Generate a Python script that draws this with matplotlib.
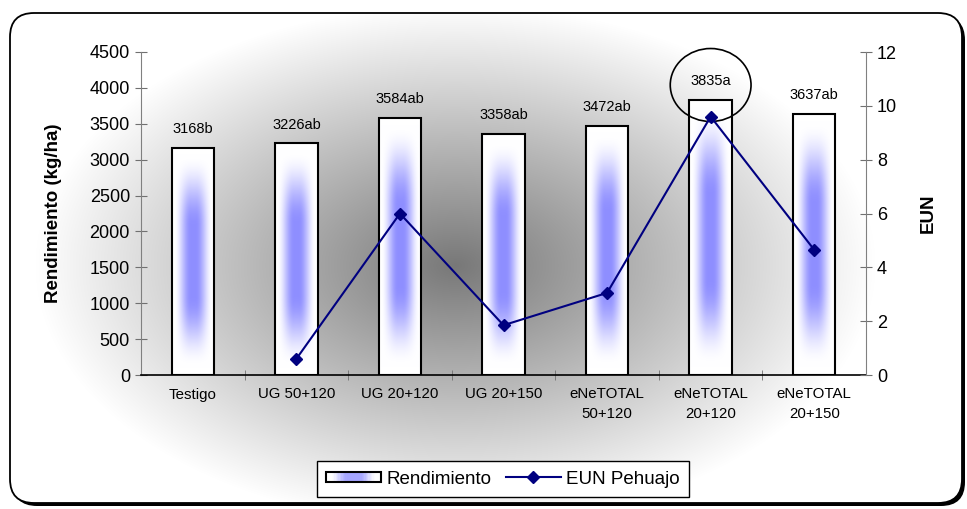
import numpy as np
import matplotlib
matplotlib.use('Agg')
import matplotlib.pyplot as plt
from matplotlib.patches import Rectangle, Ellipse, FancyBboxPatch
from matplotlib.lines import Line2D
from matplotlib.legend_handler import HandlerBase

plt.rcParams['font.family'] = ['Liberation Sans', 'DejaVu Sans']

# Datos del ensayo
categories = ['Testigo', 'UG 50+120', 'UG 20+120', 'UG 20+150',
              'eNeTOTAL\n50+120', 'eNeTOTAL\n20+120', 'eNeTOTAL\n20+150']
rendimiento = [3168, 3226, 3584, 3358, 3472, 3835, 3637]
letras = ['b', 'ab', 'ab', 'ab', 'ab', 'a', 'ab']
eun = [np.nan, 0.6, 6.0, 1.85, 3.05, 9.6, 4.65]

W, H = 967, 509
BLUE = np.array([0.56, 0.56, 1.0])
NAVY = '#000080'


def smooth(t):
    t = np.clip(t, 0, 1)
    return t * t * (3 - 2 * t)


def bar_gradient(nx=40, ny=120):
    u = np.linspace(0, 1, nx)
    v = np.linspace(0, 1, ny)
    fx = smooth((1 - np.abs(2 * u - 1)) * 1.25 - 0.1)
    fy = smooth((1 - np.abs(2 * v - 1)) * 1.6 - 0.1)
    f = fy[:, None] * fx[None, :]
    return (1 - f)[..., None] * np.ones(3) + f[..., None] * BLUE


class GradientHandler(HandlerBase):
    def create_artists(self, legend, orig_handle, xdescent, ydescent,
                       width, height, fontsize, trans):
        arts = []
        n = 40
        h = height * 0.75
        y0 = -ydescent + (height - h) / 2
        for k in range(n):
            u = (k + 0.5) / n
            f = smooth((1 - abs(2 * u - 1)) * 1.6 - 0.25) * 0.8
            col = (1 - f) * np.ones(3) + f * BLUE
            arts.append(Rectangle((-xdescent + k * width / n, y0), width / n, h,
                                  fc=col, ec='none', transform=trans))
        arts.append(Rectangle((-xdescent, y0), width, h, fc='none',
                              ec='black', lw=1.5, transform=trans))
        return arts


fig = plt.figure(figsize=(W / 100, H / 100), dpi=100)

# Marco exterior con sombra y fondo degradado
bg = fig.add_axes([0, 0, 1, 1], zorder=0)
bg.axis('off')

shadow = FancyBboxPatch((13, 16), 952, 490, boxstyle='round,pad=0,rounding_size=24',
                        fc='black', ec='none', zorder=1)
bg.add_patch(shadow)
box = FancyBboxPatch((10, 13), 952, 490, boxstyle='round,pad=0,rounding_size=24',
                     fc='white', ec='none', zorder=2)
bg.add_patch(box)

yy, xx = np.mgrid[0:H, 0:W]
t = np.sqrt(((xx - 455) / 420.0) ** 2 + ((yy - 265) / 260.0) ** 2)
val = 0.47 + 0.53 * np.clip(t, 0, 1)
im = bg.imshow(np.dstack([val, val, val]), extent=(0, W, H, 0), aspect='auto',
               interpolation='bilinear', zorder=3)
im.set_clip_path(box)
bg.add_patch(FancyBboxPatch((10, 13), 952, 490, boxstyle='round,pad=0,rounding_size=24',
                            fc='none', ec='black', lw=1.3, zorder=4))
bg.set_xlim(0, W)
bg.set_ylim(H, 0)

# Ejes principales
ax = fig.add_axes([141 / W, (H - 375) / H, 725 / W, 323 / H], zorder=1)
ax.patch.set_alpha(0)

x = np.arange(len(categories))
bw = 0.41
grad = bar_gradient()
for xi, v in zip(x, rendimiento):
    ax.imshow(grad, extent=(xi - bw / 2, xi + bw / 2, 0, v), aspect='auto',
              origin='lower', interpolation='bilinear', zorder=2)
ax.bar(x, rendimiento, width=bw, fill=False, edgecolor='black', linewidth=1.5, zorder=3)

for xi, v, l in zip(x, rendimiento, letras):
    ax.annotate(f'{v}{l}', (xi, v), xytext=(0, 13.5), textcoords='offset points',
                ha='center', va='center', fontsize=10.5)

ax.add_patch(Ellipse((5, 4040), 0.78, 1017, fill=False, ec='black', lw=1.2,
                     clip_on=False, zorder=5))

ax.set_xlim(-0.5, 6.5)
ax.set_ylim(0, 4500)
ax.set_yticks(range(0, 4501, 500))
ax.set_xticks(x)
ax.set_xticklabels(categories, fontsize=10.8, linespacing=1.5)
ax.set_xticks(np.arange(0.5, 6, 1), minor=True)
ax.tick_params(axis='x', which='major', length=0, pad=9)
ax.tick_params(axis='x', which='minor', length=7, direction='inout', color='#707070')
ax.tick_params(axis='y', length=8, direction='inout', color='#707070', labelsize=13, pad=4)
for s in ['top', 'right']:
    ax.spines[s].set_visible(False)
ax.spines['left'].set_color('#808080')
ax.spines['bottom'].set_color('black')
ax.spines['bottom'].set_linewidth(1.2)
ax.set_ylabel('Rendimiento (kg/ha)', fontsize=13.5, fontweight='bold')
ax.yaxis.set_label_coords(-0.109, 0.5)

# Eje secundario: EUN
ax2 = ax.twinx()
ax2.plot(x, eun, color=NAVY, lw=1.5, marker='D', ms=6.5, zorder=4)
ax2.set_ylim(0, 12)
ax2.set_yticks(range(0, 13, 2))
ax2.tick_params(axis='y', length=8, direction='inout', color='#707070', labelsize=13, pad=4)
for s in ['top', 'left', 'bottom']:
    ax2.spines[s].set_visible(False)
ax2.spines['right'].set_color('#808080')
ax2.set_ylabel('EUN', fontsize=13.5, fontweight='bold')
ax2.yaxis.set_label_coords(1.0745, 0.5)

handles = [Rectangle((0, 0), 1, 1), Line2D([], [], color=NAVY, lw=1.5, marker='D', ms=6.5)]
leg = ax2.legend(handles, ['Rendimiento', 'EUN Pehuajo'], ncol=2, loc='center',
                 bbox_to_anchor=(503 / W, 1 - 479 / H), bbox_transform=fig.transFigure,
                 fontsize=13.5, handlelength=2.9, handletextpad=0.3, columnspacing=0.8,
                 frameon=True, fancybox=False, edgecolor='black', framealpha=1,
                 borderpad=0.5, handler_map={Rectangle: GradientHandler()})
leg.get_frame().set_linewidth(1.0)

fig.savefig('out.png', dpi=100)
